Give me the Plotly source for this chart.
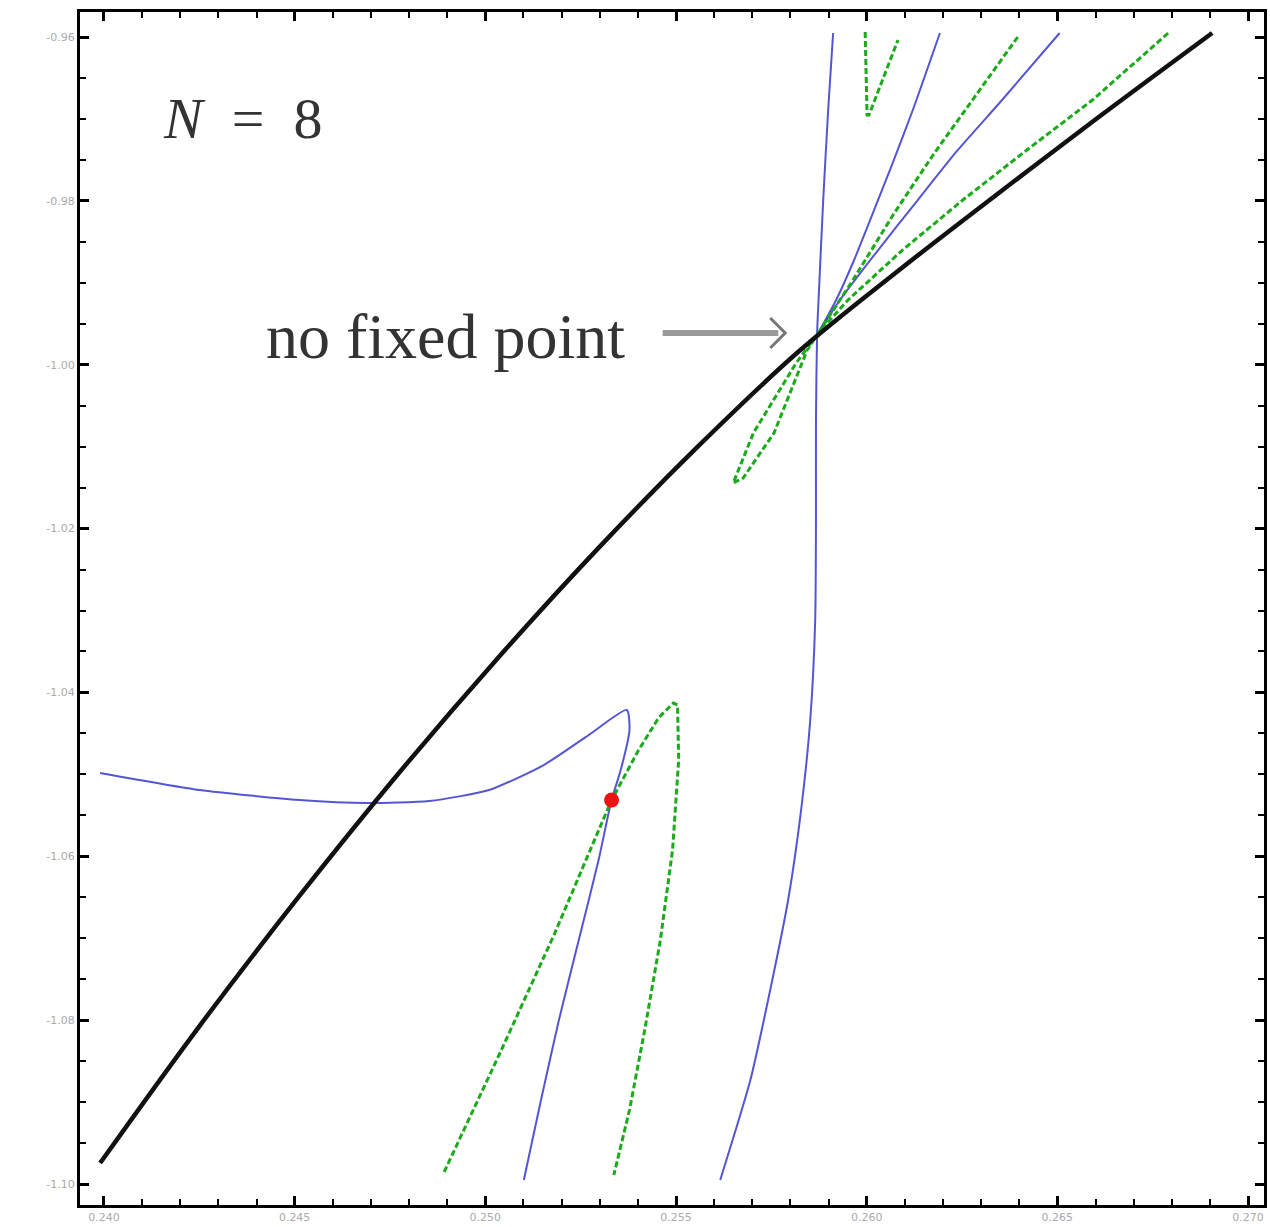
import plotly.graph_objects as go

# x tick values / labels
x_ticks = [0.240, 0.245, 0.250, 0.255, 0.260, 0.265, 0.270]
y_ticks = [-0.96, -0.98, -1.00, -1.02, -1.04, -1.06, -1.08, -1.10]

# black curve
black_x = [0.23990, 0.24251, 0.24513, 0.24774, 0.25036, 0.25297, 0.25559, 0.25820, 0.26082, 0.26343, 0.26605, 0.26906]
black_y = [-1.09744, -1.08069, -1.06481, -1.04980, -1.03564, -1.02235, -1.00991, -0.99845, -0.98856, -0.97916, -0.96989, -0.95951]

# blue curves
blueA_x = [0.23990, 0.24251, 0.24513, 0.24690, 0.24853, 0.25010, 0.25153, 0.25271, 0.25371, 0.25378, 0.25355, 0.25331, 0.25297, 0.25245, 0.25193, 0.25146, 0.25101]
blueA_y = [-1.04983, -1.05191, -1.05313, -1.05350, -1.05325, -1.05191, -1.04886, -1.04520, -1.04214, -1.04458, -1.04947, -1.05313, -1.06045, -1.07022, -1.07998, -1.08975, -1.09951]

blueB_x = [0.25912, 0.25899, 0.25886, 0.25875, 0.25870, 0.25867, 0.25867, 0.25865, 0.25852, 0.25828, 0.25794, 0.25747, 0.25695, 0.25616]
blueB_y = [-0.95951, -0.96891, -0.97990, -0.99088, -0.99613, -1.00675, -1.01895, -1.03116, -1.04336, -1.05435, -1.06533, -1.07632, -1.08731, -1.09951]

blueC_x = [0.25873, 0.25920, 0.25967, 0.26009, 0.26064, 0.26121, 0.26192]
blueC_y = [-0.99613, -0.99210, -0.98722, -0.98234, -0.97587, -0.96891, -0.95951]

blueD_x = [0.25873, 0.25930, 0.26030, 0.26134, 0.26239, 0.26355, 0.26506]
blueD_y = [-0.99613, -0.99210, -0.98600, -0.97990, -0.97379, -0.96769, -0.95951]

# green curves (upper fan + loop)
greenU_x = [0.26396, 0.26278, 0.26174, 0.26069, 0.25964, 0.25873, 0.25815, 0.25703, 0.25650,
            0.25676, 0.25757, 0.25844, 0.25873, 0.25951, 0.26094, 0.26252, 0.26420, 0.26592, 0.26791]
greenU_y = [-0.96000, -0.96769, -0.97440, -0.98173, -0.98966, -0.99613, -0.99979, -1.00833, -1.01444,
            -1.01383, -1.00833, -0.99820, -0.99613, -0.99210, -0.98600, -0.97990, -0.97379, -0.96769, -0.95951]

greenV_x = [0.25996, 0.26001, 0.26006, 0.26082]
greenV_y = [-0.95939, -0.96952, -0.96952, -0.96037]

# green lower curve
greenL_x = [0.24892, 0.25036, 0.25180, 0.25297, 0.25331, 0.25402, 0.25454, 0.25493,
            0.25504, 0.25507, 0.25491, 0.25459, 0.25418, 0.25378, 0.25337]
greenL_y = [-1.09853, -1.08425, -1.06961, -1.05679, -1.05313, -1.04703, -1.04312, -1.04129,
            -1.04153, -1.04825, -1.05923, -1.07022, -1.08120, -1.09097, -1.09890]

red_x = [0.25331]
red_y = [-1.05313]

BLUE = "rgba(55,55,205,0.85)"
GREEN = "#1aaa1a"

fig = go.Figure()

def line(x, y, color, width, dash=None, smooth=0.6):
    fig.add_trace(go.Scatter(x=x, y=y, mode="lines",
                             line=dict(color=color, width=width, dash=dash, shape="spline", smoothing=smooth),
                             hoverinfo="skip", showlegend=False))

for bx, by in [(blueA_x, blueA_y), (blueB_x, blueB_y), (blueC_x, blueC_y), (blueD_x, blueD_y)]:
    line(bx, by, BLUE, 2)

for gx, gy in [(greenU_x, greenU_y), (greenV_x, greenV_y), (greenL_x, greenL_y)]:
    fig.add_trace(go.Scatter(x=gx, y=gy, mode="lines",
                             line=dict(color=GREEN, width=3, dash="6px,3px"),
                             hoverinfo="skip", showlegend=False))

line(black_x, black_y, "#111111", 4.5, smooth=1.0)

fig.add_trace(go.Scatter(x=red_x, y=red_y, mode="markers",
                         marker=dict(color="#ee1111", size=15),
                         hoverinfo="skip", showlegend=False))

W, H = 1270, 1227
ml, mr, mt, mb = 80, 3, 12, 22

def px(p):
    return (p - ml) / (W - ml - mr)

def py(p):
    return 1 - (p - mt) / (H - mt - mb)

fig.add_annotation(x=px(243), y=py(118), xref="paper", yref="paper",
                   xanchor="center", yanchor="middle",
                   text="<i>N</i>&nbsp;&nbsp;=&nbsp;&nbsp;8", showarrow=False,
                   font=dict(family="Liberation Serif", size=58, color="#333333"))

fig.add_annotation(x=px(446), y=py(336), xref="paper", yref="paper",
                   xanchor="center", yanchor="middle",
                   text="no fixed point", showarrow=False,
                   font=dict(family="Liberation Serif", size=64, color="#333333"))

# arrow shaft
fig.add_annotation(x=px(780), y=py(333), xref="paper", yref="paper",
                   ax=-117, ay=0, text="", showarrow=True,
                   arrowhead=0, arrowwidth=6, arrowcolor="#999999")
# arrow head (open chevron)
fig.add_shape(type="path", xref="paper", yref="paper",
              path=f"M {px(772)},{py(318)} L {px(787)},{py(333)} L {px(772)},{py(348)}",
              line=dict(color="#777777", width=3))

axis_common = dict(
    showgrid=False, zeroline=False,
    showline=True, linecolor="black", linewidth=3, mirror="ticks",
    ticks="inside", ticklen=9, tickwidth=2.5, tickcolor="black",
    tickfont=dict(family="DejaVu Sans", size=11, color="#aaaaaa"),
)

fig.update_xaxes(range=[0.239372, 0.270418], tickvals=x_ticks,
                 ticktext=[f"{v:.3f}" for v in x_ticks],
                 minor=dict(dtick=0.001, tick0=0.24, ticks="inside", ticklen=6, tickwidth=2, tickcolor="black"),
                 **axis_common)
fig.update_yaxes(range=[-1.102559, -0.956949], tickvals=y_ticks,
                 ticktext=[f"{v:.2f}" for v in y_ticks],
                 minor=dict(dtick=0.005, tick0=-1.0, ticks="inside", ticklen=6, tickwidth=2, tickcolor="black"),
                 **axis_common)

fig.update_layout(width=W, height=H, margin=dict(l=ml, r=mr, t=mt, b=mb),
                  plot_bgcolor="white", paper_bgcolor="white")

fig.write_html("out.html")
